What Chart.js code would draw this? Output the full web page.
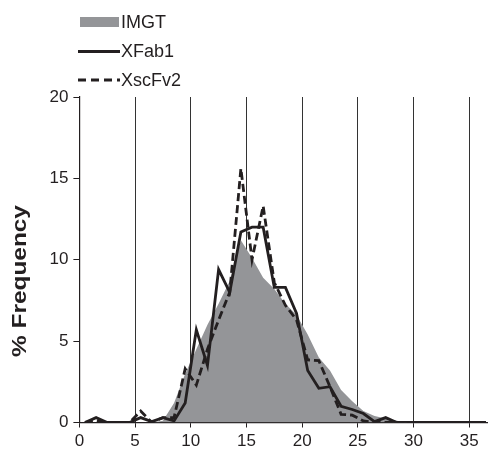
<!DOCTYPE html>
<html><head><meta charset="utf-8">
<script src="https://cdn.jsdelivr.net/npm/chart.js@4/dist/chart.umd.min.js"></script>
<style>html,body{margin:0;padding:0;background:#fff}#wrap{width:490px;height:453px;position:relative}</style>
</head><body><div id="wrap"><canvas id="c" width="490" height="453"></canvas></div>
<script>
// CDR3 length bins (x positions)
const lengths = [0.5,1.5,2.5,3.5,4.5,5.5,6.5,7.5,8.5,9.5,10.5,11.5,12.5,13.5,14.5,15.5,16.5,17.5,18.5,19.5,20.5,21.5,22.5,23.5,24.5,25.5,26.5,27.5,28.5,29.5,30.5,31.5,32.5,33.5,34.5,35.5,36.5];
const imgt   = [0,0,0,0,0,0,0,0.1,1.2,3.0,4.5,6.0,7.3,8.7,11.2,10.1,8.9,8.2,7.3,6.6,5.4,4.0,3.2,2.0,1.3,0.7,0.4,0.25,0.1,0,0,0,0,0,0,0,0];
const xfab1  = [0,0.3,0,0,0,0.3,0.05,0.3,0.1,1.2,5.7,3.5,9.4,8.0,11.7,12.0,12.0,8.3,8.3,6.7,3.2,2.1,2.2,1.0,0.8,0.55,0.05,0.3,0,0,0,0,0,0,0,0,0];
const xscfv2 = [0,0.1,0,0,0,0.7,0,0.3,0.3,3.3,2.3,4.5,6.3,8.0,15.6,10.0,13.3,8.6,7.2,6.3,3.85,3.8,2.2,0.5,0.45,0.1,0,0,0,0,0,0,0,0,0,0,0];
const seriesNames = ['IMGT','XFab1','XscFv2'];
const yTitle = '% Frequency';
const xTickStep = 5;
const yTickStep = 5;

const ink = '#231f20';
const grey = '#949598';
const FONT = '"Liberation Sans", Arial, sans-serif';
const pts = arr => lengths.map((x,i)=>({x:x,y:arr[i]}));

const legendPlugin = {
  id:'vlegend',
  afterDraw(chart){
    const c = chart.ctx;
    c.save();
    c.font = '18px ' + FONT;
    c.textBaseline = 'middle';
    c.textAlign = 'left';
    const rows = [22, 51.5, 80];
    c.fillStyle = grey;
    c.fillRect(80, 17, 39, 10);
    c.fillStyle = ink;
    c.fillText(seriesNames[0], 121, rows[0]+1);
    c.strokeStyle = ink; c.lineWidth = 2.8;
    c.beginPath(); c.moveTo(78, rows[1]); c.lineTo(120, rows[1]); c.stroke();
    c.fillText(seriesNames[1], 121, rows[1]+1);
    c.setLineDash([8,5]);
    c.beginPath(); c.moveTo(78, rows[2]); c.lineTo(120, rows[2]); c.stroke();
    c.setLineDash([]);
    c.fillText(seriesNames[2], 121, rows[2]+1);
    // y-axis title (stretched like the source figure)
    c.translate(20, 281);
    c.rotate(-Math.PI/2);
    c.scale(1.22, 1);
    c.font = 'bold 20px ' + FONT;
    c.textAlign = 'center';
    c.fillText(yTitle, 0, 0);
    c.restore();
  }
};

new Chart(document.getElementById('c'), {
  type:'line',
  data:{datasets:[
    {label:seriesNames[1], data:pts(xfab1), borderColor:ink, borderWidth:2.8, pointRadius:0, fill:false, tension:0, order:1},
    {label:seriesNames[2], data:pts(xscfv2), borderColor:ink, borderWidth:2.8, borderDash:[8,4], pointRadius:0, fill:false, tension:0, order:2},
    {label:seriesNames[0], data:pts(imgt), borderColor:'rgba(0,0,0,0)', borderWidth:0, backgroundColor:grey, pointRadius:0, fill:'origin', tension:0, order:3}
  ]},
  options:{
    responsive:false, animation:false, devicePixelRatio:1,
    layout:{padding:{top:97, right:3, left:0, bottom:0}},
    plugins:{legend:{display:false}, tooltip:{enabled:false}},
    scales:{
      x:{type:'linear', min:0, max:36.6,
        afterFit(s){ s.height = 30.5; },
        ticks:{stepSize:xTickStep, includeBounds:false, color:ink, font:{size:17, family:FONT}, padding:4, maxRotation:0},
        grid:{color:'#333', lineWidth:1, drawTicks:true, tickLength:5, tickColor:ink},
        border:{color:ink, width:1.2}
      },
      y:{min:0, max:20,
        afterFit(s){ s.width = 79.4; },
        ticks:{stepSize:yTickStep, color:ink, font:{size:17, family:FONT}, padding:5},
        grid:{drawOnChartArea:false, drawTicks:true, tickLength:6, tickColor:ink},
        border:{color:ink, width:1.2},
        title:{display:false}
      }
    }
  },
  plugins:[legendPlugin]
});
</script></body></html>
